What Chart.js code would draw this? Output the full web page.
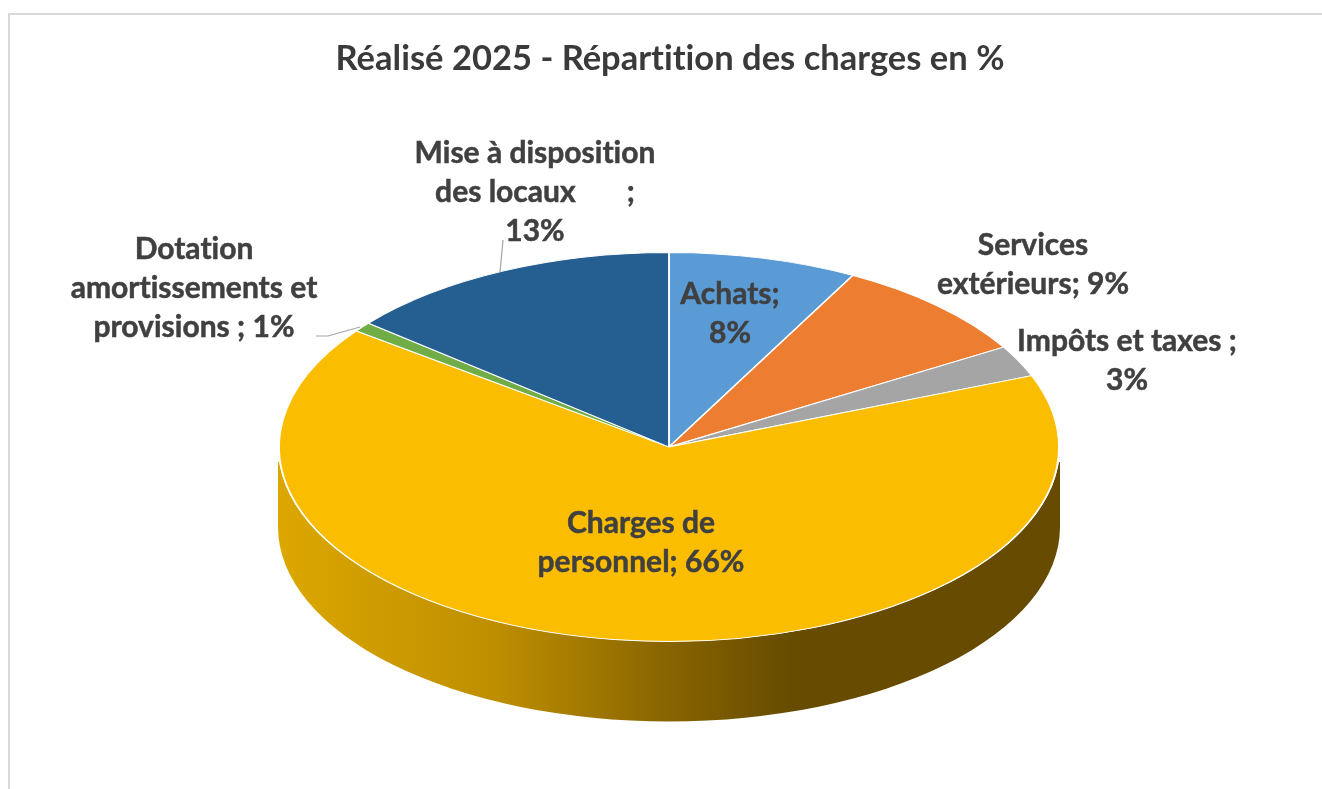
<!DOCTYPE html>
<html lang="fr">
<head>
<meta charset="utf-8">
<title>Réalisé 2025 - Répartition des charges en %</title>
<style>
html,body{margin:0;padding:0;background:#fff;overflow:hidden}
#wrap{position:absolute;left:0;top:0;width:1322px;height:789px}
</style>
<script src="https://cdn.jsdelivr.net/npm/chart.js@4/dist/chart.umd.min.js"></script>
</head>
<body>
<div id="wrap"><canvas id="c" width="1322" height="789"></canvas></div>
<script>
const titleText = "Réalisé 2025 - Répartition des charges en %";
const categories = ["Achats","Services extérieurs","Impôts et taxes","Charges de personnel","Dotation amortissements et provisions","Mise à disposition des locaux"];
const values = [7.8,8.6,2.6,66.1,0.8,14.0];
const percentLabels = ["8%","9%","3%","66%","1%","13%"];
const sliceColors = ["#5B9BD5","#ED7D31","#A5A5A5","#FBBD00","#70AD47","#255E91"];
const labelLines = [
  ["Achats;", percentLabels[0]],
  ["Services", "extérieurs; " + percentLabels[1]],
  ["Impôts et taxes ;", percentLabels[2]],
  ["Charges de", "personnel; " + percentLabels[3]],
  ["Dotation", "amortissements et", "provisions ; " + percentLabels[4]],
  ["Mise à disposition", "des locaux       ;", percentLabels[5]]
];
const labelAnchors = [[730,294],[1033,245],[1127,341],[641,523],[194,249],[535,153]];
const labelLineHeight = 39;
const labelFont = 'bold 30px Lato, sans-serif';

const center = {x:669,y:447}, radiusX = 390, radiusY = 194.5, depth = 80;
const wallStops = [[0,"#DCA700"],[0.28,"#BE8E00"],[0.49,"#8A6600"],[0.66,"#664B00"],[1,"#664B00"]];
const leaders = [
  [[503,240],[500,272]],
  [[316,336],[328,336],[360,327]]
];

function applyFlatten(ctx, arc){
  const k = arc.outerRadius;
  ctx.translate(center.x, center.y);
  ctx.scale(radiusX/k, radiusY/k);
  ctx.translate(-arc.x, -arc.y);
}

const pie3d = {
  id:'pie3d',
  beforeDraw(chart){
    const ctx = chart.ctx;
    ctx.save();
    ctx.strokeStyle = '#D9D9D9';
    ctx.lineWidth = 2;
    ctx.beginPath();
    ctx.moveTo(1322,14);ctx.lineTo(9,14);ctx.lineTo(9,789);
    ctx.stroke();
    ctx.restore();
    ctx.letterSpacing = '0.01px';
  },
  beforeDatasetsDraw(chart){
    const ctx = chart.ctx;
    const arcs = chart.getDatasetMeta(0).data;
    const grad = ctx.createLinearGradient(center.x-radiusX,0,center.x+radiusX,0);
    wallStops.forEach(s=>grad.addColorStop(s[0],s[1]));
    ctx.save();
    ctx.beginPath();
    ctx.rect(0,center.y+15,1322,789);
    ctx.clip();
    arcs.forEach(arc=>{
      const a0 = Math.max(arc.startAngle,0), a1 = Math.min(arc.endAngle,Math.PI);
      if(a1<=a0) return;
      ctx.beginPath();
      ctx.ellipse(center.x,center.y,radiusX+1,radiusY,0,a0,a1);
      ctx.ellipse(center.x,center.y+depth,radiusX+1,radiusY,0,a1,a0,true);
      ctx.closePath();
      ctx.fillStyle = grad;
      ctx.fill();
    });
    ctx.restore();
    ctx.save();
    applyFlatten(ctx, arcs[0]);
  },
  afterDatasetsDraw(chart){
    const ctx = chart.ctx;
    ctx.restore();
    ctx.save();
    ctx.strokeStyle = '#A6A6A6';
    ctx.lineWidth = 1.2;
    leaders.forEach(l=>{
      ctx.beginPath();
      l.forEach((p,i)=> i?ctx.lineTo(p[0],p[1]):ctx.moveTo(p[0],p[1]));
      ctx.stroke();
    });
    ctx.fillStyle = '#404040';
    ctx.strokeStyle = '#404040';
    ctx.lineWidth = 0.5;
    ctx.font = labelFont;
    ctx.textAlign = 'center';
    ctx.textBaseline = 'middle';
    labelLines.forEach((lines,i)=>{
      lines.forEach((t,j)=>{
        const y = labelAnchors[i][1]+j*labelLineHeight;
        ctx.fillText(t,labelAnchors[i][0],y);
        ctx.strokeText(t,labelAnchors[i][0],y);
      });
    });
    ctx.restore();
  }
};

new Chart(document.getElementById('c'),{
  type:'pie',
  data:{labels:categories,datasets:[{
    data:values,
    backgroundColor:sliceColors,
    borderColor:'#FFFFFF',
    borderWidth:1.6,
    clip:false
  }]},
  options:{
    responsive:false,
    animation:false,
    layout:{padding:{left:18,right:0,top:0,bottom:0}},
    events:[],
    plugins:{
      legend:{display:false},
      tooltip:{enabled:false},
      title:{display:true,text:titleText,color:'#3A3A3A',
        font:{family:'Lato, sans-serif',size:34.5,weight:'bold'},
        padding:{top:38,bottom:29}}
    }
  },
  plugins:[pie3d]
});
</script>
</body>
</html>
